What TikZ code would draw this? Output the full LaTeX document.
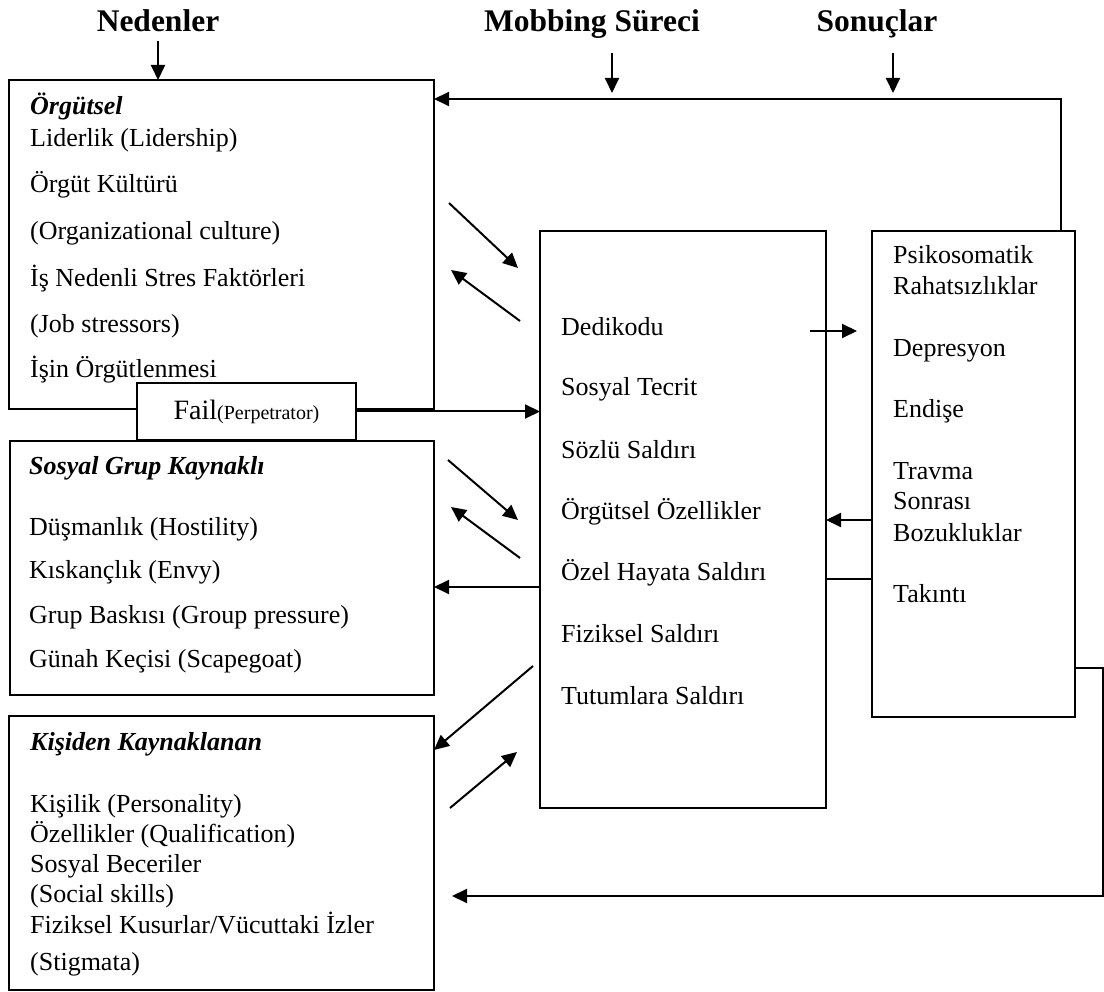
\documentclass[tikz,border=0pt]{standalone}
\usepackage{fontspec}
\setmainfont{Liberation Serif}
\usepackage{tikz}
\usetikzlibrary{arrows.meta}
\newcommand{\bodyfont}{\fontsize{26}{30}\selectfont}
\newcommand{\headfont}{\fontsize{31.5}{36}\selectfont\bfseries}
\tikzstyle{box} = [rectangle, draw, line width=2pt, anchor=north west,
    inner sep=0pt, outer sep=0pt]
\tikzstyle{item} = [anchor=base west, inner sep=0pt, font=\bodyfont]
\tikzstyle{head} = [anchor=base, inner sep=0pt, font=\headfont]
\tikzstyle{line} = [draw, line width=2pt, -{Triangle[length=15pt, width=14pt]}]

\begin{document}
\begin{tikzpicture}[x=1pt, y=-1pt]
    \useasboundingbox (0,0) rectangle (1104,992);
    % Headers
    \node [head] (neden) at (158,32) {Nedenler};
    \node [head] (mobbing) at (592,32) {Mobbing Süreci};
    \node [head] (sonuclar) at (877,32) {Sonuçlar};
    % Boxes
    \node [box, minimum width=425pt, minimum height=329pt] (orgut) at (9,80) {};
    \node [box, minimum width=424pt, minimum height=254pt] (sosyal) at (10,441) {};
    \node [box, minimum width=425pt, minimum height=274pt] (kisi) at (9,716) {};
    \node [box, fill=white, minimum width=219pt, minimum height=57pt] (fail) at (137,383)
        {\fontsize{28}{30}\selectfont Fail{\fontsize{20}{22}\selectfont(Perpetrator)}};
    \node [box, minimum width=286pt, minimum height=577pt] (surec) at (540,231) {};
    \node [box, minimum width=203pt, minimum height=486pt] (sonuc) at (872,231) {};
    % Organizational causes
    \node [item] (o0) at (30,115) {\textbf{\textit{Örgütsel}}};
    \node [item] (o1) at (30,147) {Liderlik (Lidership)};
    \node [item] (o2) at (30,193) {Örgüt Kültürü};
    \node [item] (o3) at (30,240) {(Organizational culture)};
    \node [item] (o4) at (30,287) {İş Nedenli Stres Faktörleri};
    \node [item] (o5) at (30,333) {(Job stressors)};
    \node [item] (o6) at (30,378) {İşin Örgütlenmesi};
    % Social group causes
    \node [item] (s0) at (29,475) {\textbf{\textit{Sosyal Grup Kaynaklı}}};
    \node [item] (s1) at (29,535) {Düşmanlık (Hostility)};
    \node [item] (s2) at (29,578) {Kıskançlık (Envy)};
    \node [item] (s3) at (29,623) {Grup Baskısı (Group pressure)};
    \node [item] (s4) at (29,667) {Günah Keçisi (Scapegoat)};
    % Personal causes
    \node [item] (k0) at (30,750) {\textbf{\textit{Kişiden Kaynaklanan}}};
    \node [item] (k1) at (30,812) {Kişilik (Personality)};
    \node [item] (k2) at (30,842) {Özellikler (Qualification)};
    \node [item] (k3) at (30,872) {Sosyal Beceriler};
    \node [item] (k4) at (30,902) {(Social skills)};
    \node [item] (k5) at (30,933) {Fiziksel Kusurlar/Vücuttaki İzler};
    \node [item] (k6) at (30,970) {(Stigmata)};
    % Process
    \node [item] (p1) at (561,336) {Dedikodu};
    \node [item] (p2) at (561,396) {Sosyal Tecrit};
    \node [item] (p3) at (561,458) {Sözlü Saldırı};
    \node [item] (p4) at (561,519) {Örgütsel Özellikler};
    \node [item] (p5) at (561,580) {Özel Hayata Saldırı};
    \node [item] (p6) at (561,642) {Fiziksel Saldırı};
    \node [item] (p7) at (561,704) {Tutumlara Saldırı};
    % Results
    \node [item] (r1) at (893,264) {Psikosomatik};
    \node [item] (r2) at (893,295) {Rahatsızlıklar};
    \node [item] (r3) at (893,357) {Depresyon};
    \node [item] (r4) at (893,418) {Endişe};
    \node [item] (r5) at (893,479) {Travma};
    \node [item] (r6) at (893,509) {Sonrası};
    \node [item] (r7) at (893,541) {Bozukluklar};
    \node [item] (r8) at (893,602) {Takıntı};
    % Free arrow ends
    \coordinate (mtop) at (612,53);
    \coordinate (mbot) at (612,93);
    \coordinate (stop) at (893,53);
    \coordinate (sbot) at (893,93);
    \coordinate (a1) at (449,203);
    \coordinate (a2) at (518,268);
    \coordinate (a3) at (520,321);
    \coordinate (a4) at (451,270);
    \coordinate (a5) at (448,460);
    \coordinate (a6) at (518,520);
    \coordinate (a7) at (520,558);
    \coordinate (a8) at (451,507);
    \coordinate (a9) at (533,666);
    \coordinate (a11) at (450,808);
    \coordinate (a12) at (517,752);
    \coordinate (d1) at (810,331);
    \coordinate (d2) at (857,331);
    \coordinate (bend) at (1103,896);
    \coordinate (back) at (452,896);
    % Edges
    \path [line] ([yshift=-8pt]neden.south) -- (neden.south |- orgut.north);
    \path [line] (mtop) -- (mbot);
    \path [line] (stop) -- (sbot);
    \path [line] ([xshift=-14pt]sonuc.north east) |- ([yshift=-19pt]orgut.north east);
    \path [line] (a1) -- (a2);
    \path [line] (a3) -- (a4);
    \path [line] (a5) -- (a6);
    \path [line] (a7) -- (a8);
    \path [line] (a9) -- ([yshift=-34pt]kisi.north east);
    \path [line] (a11) -- (a12);
    \path [line] (fail.east) -- (surec.west |- fail.east);
    \path [line] (d1) -- (d2);
    \path [line] (sonuc.west |- 0,520) -- (surec.east |- 0,520);
    \draw [line width=2pt] (surec.east |- 0,579) -- (sonuc.west |- 0,579);
    \path [line] (surec.west |- 0,587) -- (sosyal.east |- 0,587);
    \path [line] ([yshift=49pt]sonuc.south east) -| (bend) -- (back);
\end{tikzpicture}
\end{document}
